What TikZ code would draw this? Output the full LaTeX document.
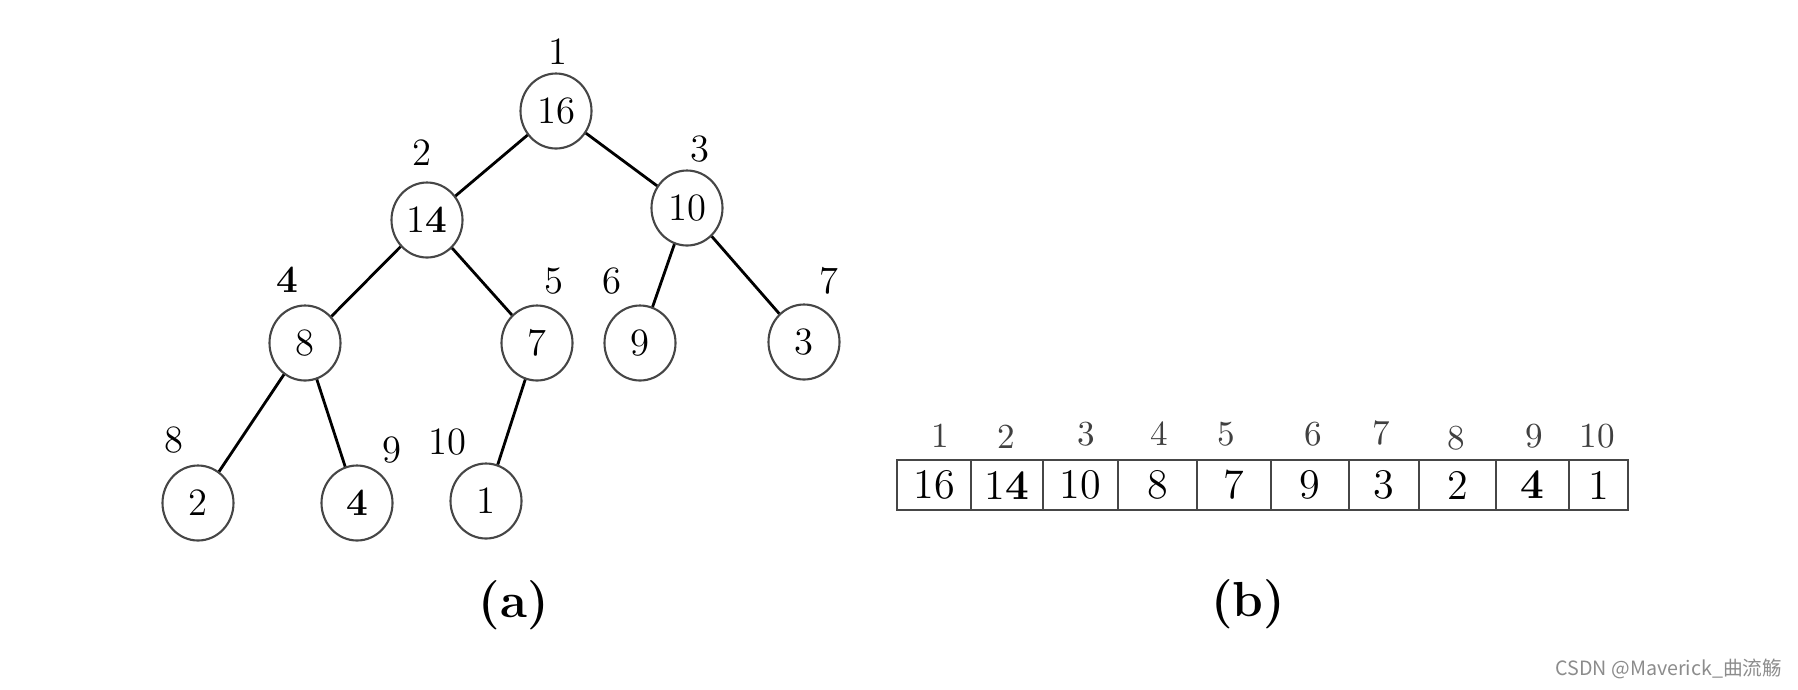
\documentclass[tikz,border=0pt]{standalone}
\usepackage{fontspec}
\usepackage{tikz}
\usetikzlibrary{positioning, shapes.geometric}
\newfontfamily\cjk{Noto Sans CJK SC}
\definecolor{heapgray}{RGB}{70,70,70}
\definecolor{markgray}{RGB}{140,140,140}

\begin{document}
\begin{tikzpicture}[
    heapnode/.style={draw=heapgray, ellipse, minimum width=0.71cm, minimum height=0.75cm, inner sep=0pt, line width=0.6pt, font=\fontsize{11}{13}\selectfont},
    treeidx/.style={font=\fontsize{11}{13}\selectfont, inner sep=0pt},
    cell/.style={draw=heapgray, rectangle, minimum height=0.5cm, inner sep=0pt, line width=0.8pt, font=\fontsize{12}{14}\selectfont},
    arridx/.style={font=\fontsize{10}{12}\selectfont, text=black!75, inner sep=0pt},
    caption/.style={font=\fontsize{14}{16}\selectfont\bfseries},
    edge/.style={line width=0.8pt}
]
\useasboundingbox (0,0) rectangle (17.98,-6.89);

% (a): the heap as a tree
\node[heapnode] (n16) at (5.56,-1.11) {16};
\node[heapnode] (n14) at (4.27,-2.20) {1\textbf{4}};
\node[heapnode] (n10) at (6.87,-2.08) {10};
\node[heapnode] (n8) at (3.05,-3.43) {8};
\node[heapnode] (n7) at (5.37,-3.43) {7};
\node[heapnode] (n9) at (6.40,-3.43) {9};
\node[heapnode] (n3) at (8.04,-3.42) {3};
\node[heapnode] (n2) at (1.98,-5.03) {2};
\node[heapnode] (n4) at (3.57,-5.03) {\textbf{4}};
\node[heapnode] (n1) at (4.86,-5.01) {1};

\draw[edge] (n16) -- (n14);
\draw[edge] (n16) -- (n10);
\draw[edge] (n14) -- (n8);
\draw[edge] (n14) -- (n7);
\draw[edge] (n10) -- (n9);
\draw[edge] (n10) -- (n3);
\draw[edge] (n8) -- (n2);
\draw[edge] (n8) -- (n4);
\draw[edge] (n7) -- (n1);

% index of each tree node
\node[treeidx] (t1) at (5.58,-0.52) {1};
\node[treeidx] (t2) at (4.22,-1.53) {2};
\node[treeidx] (t3) at (7.00,-1.49) {3};
\node[treeidx] (t4) at (2.87,-2.80) {\textbf{4}};
\node[treeidx] (t5) at (5.54,-2.81) {5};
\node[treeidx] (t6) at (6.12,-2.81) {6};
\node[treeidx] (t7) at (8.29,-2.81) {7};
\node[treeidx] (t8) at (1.74,-4.40) {8};
\node[treeidx] (t9) at (3.92,-4.50) {9};
\node[treeidx] (t10) at (4.47,-4.42) {10};

\node[caption] (capa) at (5.14,-6.05) {(a)};

% (b): the same heap as an array
\node[cell, minimum width=0.74cm] (c1) at (9.34,-4.85) {16};
\node[cell, minimum width=0.72cm] (c2) at (10.07,-4.85) {1\textbf{4}};
\node[cell, minimum width=0.75cm] (c3) at (10.805,-4.85) {10};
\node[cell, minimum width=0.79cm] (c4) at (11.575,-4.85) {8};
\node[cell, minimum width=0.74cm] (c5) at (12.34,-4.85) {7};
\node[cell, minimum width=0.78cm] (c6) at (13.10,-4.85) {9};
\node[cell, minimum width=0.70cm] (c7) at (13.84,-4.85) {3};
\node[cell, minimum width=0.77cm] (c8) at (14.575,-4.85) {2};
\node[cell, minimum width=0.73cm] (c9) at (15.325,-4.85) {\textbf{4}};
\node[cell, minimum width=0.59cm] (c10) at (15.985,-4.85) {1};

\node[arridx] (a1) at (9.40,-4.36) {1};
\node[arridx] (a2) at (10.06,-4.37) {2};
\node[arridx] (a3) at (10.86,-4.34) {3};
\node[arridx] (a4) at (11.59,-4.34) {4};
\node[arridx] (a5) at (12.26,-4.34) {5};
\node[arridx] (a6) at (13.13,-4.34) {6};
\node[arridx] (a7) at (13.81,-4.33) {7};
\node[arridx] (a8) at (14.56,-4.38) {8};
\node[arridx] (a9) at (15.34,-4.36) {9};
\node[arridx] (a10) at (15.97,-4.36) {10};

\node[caption] (capb) at (12.48,-6.04) {(b)};

% watermark
\node[anchor=east, font=\cjk\fontsize{5.6}{7}\selectfont, text=markgray, inner sep=0pt] (mark) at (17.83,-6.69) {CSDN @Maverick\_曲流觞};

\end{tikzpicture}
\end{document}
